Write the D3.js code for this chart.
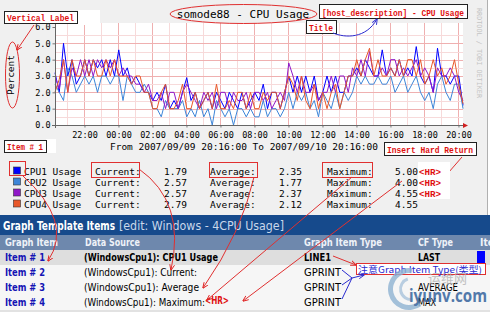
<!DOCTYPE html>
<html>
<head>
<meta charset="utf-8">
<script src="https://cdn.jsdelivr.net/npm/d3@7"></script>
<style>
  body { margin: 0; background: #fff; }
  svg { display: block; }
</style>
</head>
<body>
<script>
const seriesNames = ["CPU1 Usage", "CPU2 Usage", "CPU3 Usage", "CPU4 Usage"]
const seriesColors = ["#0000ff", "#3d85d8", "#8f18c8", "#e8582a"]

// one value every 15 minutes, 2007/09/09 20:16 -> 2007/09/10 20:16
const cpu1 = [
    3.2, 2.0, 5.0, 3.0, 4.0, 2.5, 3.0, 4.0, 3.0, 4.0, 3.5, 4.0,
    3.0, 4.0, 3.0, 4.6, 3.0, 3.5, 2.5, 3.0, 2.5, 2.0, 2.0, 1.5,
    2.0, 1.5, 2.5, 1.0, 1.5, 1.0, 2.0, 2.9, 1.5, 2.0, 1.0, 1.5,
    2.0, 1.0, 2.0, 1.5, 1.0, 2.0, 1.5, 1.0, 2.0, 1.0, 1.5, 2.0,
    1.5, 2.5, 1.0, 2.0, 2.0, 1.0, 2.0, 3.0, 2.0, 3.0, 2.0, 3.0,
    2.0, 3.0, 1.5, 2.0, 3.0, 2.0, 3.0, 2.0, 2.0, 3.0, 3.0, 3.5,
    3.0, 4.0, 3.5, 3.0, 3.0, 4.6, 3.0, 3.5, 3.0, 4.0, 3.0, 3.5,
    3.0, 4.8, 3.0, 2.5, 3.0, 2.0, 4.7, 3.0, 3.0, 2.5, 3.0, 3.0,
    1.2
]
const cpu2 = [
    2.5, 2.0, 1.5, 3.5, 3.0, 2.0, 2.5, 3.0, 2.5, 3.0, 2.0, 3.0,
    3.0, 2.5, 3.0, 3.0, 1.5, 3.0, 2.5, 2.0, 2.0, 2.5, 2.0, 1.0,
    1.0, 0.5, 1.5, 1.0, 1.0, 1.0, 1.5, 0.5, 1.0, 0.5, 1.5, 0.5,
    1.0, 0.0, 1.5, 1.0, 0.5, 1.0, 0.0, 1.0, 1.0, 0.5, 1.0, 0.5,
    0.5, 1.5, 0.5, 1.0, 1.0, 0.5, 1.0, 2.0, 1.0, 2.0, 1.5, 2.0,
    1.0, 1.5, 0.5, 2.0, 1.5, 1.0, 2.0, 1.0, 2.0, 1.5, 2.0, 3.0,
    2.5, 3.0, 2.5, 2.5, 3.0, 2.5, 2.5, 3.0, 2.0, 2.5, 3.0, 2.0,
    2.5, 3.0, 2.0, 1.5, 2.0, 1.0, 2.5, 3.0, 2.0, 1.5, 2.5, 2.5,
    1.0
]
const cpu3 = [
    3.0, 2.2, 4.0, 2.0, 3.5, 3.0, 4.0, 3.0, 4.0, 3.0, 4.0, 3.5,
    4.0, 3.5, 4.0, 3.0, 3.5, 3.0, 3.0, 2.5, 2.5, 2.0, 2.5, 1.5,
    1.5, 2.0, 1.0, 2.0, 2.0, 1.0, 2.0, 2.5, 2.0, 1.5, 1.0, 2.0,
    1.5, 2.0, 1.0, 2.0, 2.0, 1.0, 2.0, 1.5, 1.5, 2.0, 1.0, 2.0,
    2.0, 1.5, 2.0, 1.0, 1.5, 2.0, 1.5, 3.8, 3.0, 2.0, 3.0, 2.0,
    2.0, 2.5, 1.5, 2.0, 2.0, 3.0, 2.0, 3.0, 3.0, 2.0, 3.5, 3.0,
    4.0, 3.0, 4.5, 3.0, 3.0, 3.5, 3.0, 4.0, 4.0, 3.0, 3.5, 3.0,
    3.5, 4.0, 3.0, 3.5, 3.0, 2.0, 3.5, 3.0, 3.0, 3.5, 3.0, 2.0,
    1.5
]
const cpu4 = [
    2.0, 2.8, 4.0, 2.0, 4.0, 3.0, 3.0, 4.0, 3.0, 4.0, 3.0, 3.0,
    4.0, 3.0, 4.0, 3.0, 3.0, 3.0, 2.5, 3.0, 3.0, 2.0, 2.0, 1.0,
    1.0, 2.0, 2.5, 1.0, 1.0, 1.5, 2.5, 1.0, 1.0, 2.0, 1.0, 1.5,
    2.0, 1.0, 2.5, 1.0, 1.0, 1.5, 1.0, 2.0, 2.0, 1.0, 2.0, 1.0,
    1.0, 2.0, 1.5, 2.0, 2.0, 1.0, 2.0, 3.0, 2.5, 1.5, 3.0, 1.5,
    1.0, 2.5, 1.0, 2.0, 1.0, 2.0, 2.5, 1.0, 2.0, 3.0, 3.0, 4.0,
    3.0, 4.0, 4.7, 3.0, 4.0, 3.0, 3.0, 3.5, 3.0, 4.0, 3.0, 4.0,
    4.0, 3.0, 4.0, 2.5, 3.0, 4.0, 3.0, 3.5, 2.5, 3.0, 4.0, 2.5,
    1.3
]
const series = [cpu1, cpu2, cpu3, cpu4]

const currentVals = ["1.79", "2.57", "2.57", "2.79"]
const averageVals = ["2.35", "1.77", "2.37", "2.12"]
const maximumVals = ["5.00", "4.00", "4.55", "4.55"]
const yTicks = [0, 1, 2, 3, 4, 5, 6]

const itemNames = ["Item # 1", "Item # 2", "Item # 3", "Item # 4"]
const dataSources = ["(WindowsCpu1): CPU1 Usage", "(WindowsCpu1): Current:", "(WindowsCpu1): Average", "(WindowsCpu1): Maximum:"]
const itemTypes = ["LINE1", "GPRINT", "GPRINT", "GPRINT"]
const cfTypes = ["LAST", "", "AVERAGE", "MAX"]

const width = 490
const height = 312
const mono = "'DejaVu Sans Mono', monospace"
const sans = "'DejaVu Sans', Verdana, sans-serif"
const annoFont = "'Liberation Mono', monospace"

const svg = d3.select("body")
    .append("svg")
    .attr("width", width)
    .attr("height", height)

const defs = svg.append("defs")
const marker = (id, color) => defs.append("marker")
    .attr("id", id)
    .attr("viewBox", "0 0 10 10")
    .attr("refX", 9).attr("refY", 5)
    .attr("markerWidth", 6).attr("markerHeight", 6)
    .attr("orient", "auto")
    .append("path")
    .attr("d", "M0,1 L10,5 L0,9")
    .attr("fill", "none")
    .attr("stroke", color)
    .attr("stroke-width", 1.5)
marker("arrRed", "#e02020")
marker("arrBlue", "#2a2ad0")

// rrdtool image background
svg.append("rect")
    .attr("width", 487).attr("height", 215)
    .attr("fill", "#f0f0f0")
svg.append("line")
    .attr("x1", 487.5).attr("x2", 487.5).attr("y1", 0).attr("y2", 215)
    .attr("stroke", "#b0b0b0")

const start = new Date(2007, 8, 9, 20, 16)
const end = new Date(2007, 8, 10, 20, 16)
const times = cpu1.map((d, i) => d3.timeMinute.offset(start, i * 15))

const x = d3.scaleTime()
    .domain([start, end])
    .range([55, 463])
const y = d3.scaleLinear()
    .domain([0, 6])
    .range([125, 27])

const chart = svg.append("g")
chart.append("rect")
    .attr("x", 55).attr("y", 23)
    .attr("width", 408).attr("height", 102)
    .attr("fill", "#fff")

const hours = d3.timeHour.range(d3.timeHour.ceil(start), end)
const majorHours = hours.filter(d => d.getHours() % 2 === 0)
const halfSteps = d3.range(1, 12).map(d => d / 2)

chart.selectAll(".vgrid")
    .data(hours)
    .join("line")
    .attr("x1", d => Math.round(x(d)) + 0.5).attr("x2", d => Math.round(x(d)) + 0.5)
    .attr("y1", 23).attr("y2", 125)
    .attr("stroke", d => d.getHours() % 2 === 0 ? "#efb0b0" : "#f7dada")
chart.selectAll(".hgrid")
    .data(halfSteps)
    .join("line")
    .attr("x1", 55).attr("x2", 463)
    .attr("y1", d => Math.round(y(d)) + 0.5).attr("y2", d => Math.round(y(d)) + 0.5)
    .attr("stroke", d => d % 1 === 0 ? "#efb0b0" : "#f7dada")

const line = d3.line()
    .x((d, i) => x(times[i]))
    .y(d => y(d))

series.forEach((s, i) => {
    chart.append("path")
        .attr("d", line(s))
        .attr("fill", "none")
        .attr("stroke", seriesColors[i])
        .attr("stroke-width", 1)
})

const xAxis = d3.axisBottom(x)
    .tickValues(majorHours)
    .tickFormat(d3.timeFormat("%H:%M"))
    .tickSizeInner(2).tickSizeOuter(0)
    .tickPadding(4)
const yAxis = d3.axisLeft(y)
    .tickValues(yTicks)
    .tickFormat(d3.format(".1f"))
    .tickSizeInner(3).tickSizeOuter(0)
    .tickPadding(2)

chart.append("g")
    .attr("transform", "translate(0,125.5)")
    .call(xAxis)
    .call(g => g.select(".domain").remove())
    .call(g => g.selectAll("line").attr("stroke", "#777"))
    .call(g => g.selectAll("text").attr("font-family", mono).attr("font-size", 8.5).attr("fill", "#000"))
chart.append("g")
    .attr("transform", "translate(55.5,0)")
    .call(yAxis)
    .call(g => g.select(".domain").remove())
    .call(g => g.selectAll("line").attr("stroke", "#777"))
    .call(g => g.selectAll("text").attr("font-family", mono).attr("font-size", 8.5).attr("fill", "#000"))

chart.append("line")
    .attr("x1", 52).attr("x2", 464).attr("y1", 125.5).attr("y2", 125.5)
    .attr("stroke", "#666")
chart.append("line")
    .attr("x1", 55.5).attr("x2", 55.5).attr("y1", 128).attr("y2", 22)
    .attr("stroke", "#666")
chart.append("path")
    .attr("d", "M463,123 L468,125.5 L463,128 Z")
    .attr("fill", "#d02020")
chart.append("path")
    .attr("d", "M53,23 L55.5,18 L58,23 Z")
    .attr("fill", "#d02020")

svg.append("text")
    .attr("x", 243).attr("y", 18)
    .attr("text-anchor", "middle")
    .attr("font-family", mono).attr("font-size", 11)
    .text("somode88 - CPU Usage")
svg.append("text")
    .attr("transform", "translate(13.5,75) rotate(-90)")
    .attr("text-anchor", "middle")
    .attr("font-family", mono).attr("font-size", 9.5)
    .text("Percent")
svg.append("text")
    .attr("transform", "translate(477,8) rotate(90)")
    .attr("font-family", mono).attr("font-size", 6.8)
    .attr("fill", "#c4c4c4")
    .text("RRDTOOL / TOBI OETIKER")
svg.append("text")
    .attr("x", 110).attr("y", 149.5)
    .attr("font-family", mono).attr("font-size", 9.5)
    .attr("textLength", 268)
    .text("From 2007/09/09 20:16:00 To 2007/09/10 20:16:00")

const legend = svg.append("g")
    .attr("font-family", mono).attr("font-size", 9.5)
seriesNames.forEach((name, i) => {
    const by = 174.5 + i * 11
    legend.append("rect")
        .attr("x", 13.5).attr("y", by - 7.5)
        .attr("width", 7).attr("height", 7)
        .attr("fill", seriesColors[i])
        .attr("stroke", "#333").attr("stroke-width", 0.6)
    legend.append("text").attr("x", 24).attr("y", by).text(name)
    legend.append("text").attr("x", 95).attr("y", by).text("Current:")
    legend.append("text").attr("x", 187).attr("y", by).attr("text-anchor", "end").text(currentVals[i])
    legend.append("text").attr("x", 210).attr("y", by).text("Average:")
    legend.append("text").attr("x", 302).attr("y", by).attr("text-anchor", "end").text(averageVals[i])
    legend.append("text").attr("x", 327).attr("y", by).text("Maximum:")
    legend.append("text").attr("x", 418).attr("y", by).attr("text-anchor", "end").text(maximumVals[i])
})

// Graph Template Items table
const table = svg.append("g").attr("font-family", sans)
const tText = (x0, y0, str, len, opts = {}) => table.append("text")
    .attr("x", x0).attr("y", y0)
    .attr("font-size", opts.size || 10)
    .attr("font-weight", opts.bold ? "bold" : "normal")
    .attr("fill", opts.fill || "#000")
    .attr("textLength", len)
    .attr("lengthAdjust", "spacingAndGlyphs")
    .text(str)

table.append("rect").attr("x", 0).attr("y", 215).attr("width", 490).attr("height", 20).attr("fill", "#164a8c")
tText(3, 230, "Graph Template Items", 112, { size: 12, bold: true, fill: "#fff" })
tText(119, 230, "[edit: Windows - 4CPU Usage]", 165, { size: 12, fill: "#c9d7ea" })

table.append("rect").attr("x", 0).attr("y", 235).attr("width", 490).attr("height", 15).attr("fill", "#6e88ad")
tText(5, 245.5, "Graph Item", 53, { bold: true, fill: "#eef2f8" })
tText(85, 245.5, "Data Source", 55, { bold: true, fill: "#eef2f8" })
tText(304, 245.5, "Graph Item Type", 78, { bold: true, fill: "#eef2f8" })
tText(418, 245.5, "CF Type", 35, { bold: true, fill: "#eef2f8" })
tText(480, 245.5, "Ite", 14, { bold: true, fill: "#eef2f8" })

const rowFills = ["#dedede", "#f6f6f6", "#f6f6f6", "#f6f6f6"]
const srcLens = [134, 113, 115, 121]
const typeLens = [27, 37, 37, 37]
const cfLens = [22, 0, 40, 18]
itemNames.forEach((name, i) => {
    const ry = 250 + i * 15
    const by = ry + 11
    table.append("rect").attr("x", 0).attr("y", ry).attr("width", 490).attr("height", 15).attr("fill", rowFills[i])
    tText(5, by, name, 40, { bold: true, fill: "#1414b4" })
    tText(84, by, dataSources[i], srcLens[i], { bold: i === 0 })
    tText(304, by, itemTypes[i], typeLens[i], { bold: i === 0 })
    if (cfTypes[i]) tText(418, by, cfTypes[i], cfLens[i], { bold: i === 0 })
})
table.append("rect").attr("x", 477).attr("y", 251).attr("width", 8).attr("height", 12).attr("fill", "#0000ff")
table.append("rect").attr("x", 0).attr("y", 310).attr("width", 490).attr("height", 2).attr("fill", "#e2e2e2")
tText(205, 304, "<HR>", 24, { bold: true, fill: "#e01010" })

// annotations
const anno = svg.append("g")
const box = (x0, y0, w, h, str, len) => {
    anno.append("rect")
        .attr("x", x0 + 0.5).attr("y", y0 + 0.5)
        .attr("width", w).attr("height", h)
        .attr("fill", "#fff")
        .attr("stroke", "#222").attr("stroke-width", 1)
    anno.append("text")
        .attr("x", x0 + 3).attr("y", y0 + h - 2.5)
        .attr("font-family", annoFont).attr("font-weight", "bold")
        .attr("font-size", 9.5).attr("fill", "#e01010")
        .attr("textLength", len).attr("lengthAdjust", "spacingAndGlyphs")
        .text(str)
}
const redBox = (x0, y0, w, h) => anno.append("rect")
    .attr("x", x0 + 0.5).attr("y", y0 + 0.5)
    .attr("width", w).attr("height", h)
    .attr("fill", "none").attr("stroke", "#e03030").attr("stroke-width", 1)
const path = (d, color, arrow) => anno.append("path")
    .attr("d", d)
    .attr("fill", "none")
    .attr("stroke", color).attr("stroke-width", 1)
    .attr("marker-end", arrow ? `url(#${arrow})` : null)

anno.append("rect").attr("x", 78).attr("y", 10).attr("width", 22).attr("height", 15).attr("fill", "#fff")
box(4, 11, 73, 12, "Vertical Label", 67)
anno.append("ellipse")
    .attr("cx", 12.5).attr("cy", 75).attr("rx", 7).attr("ry", 33)
    .attr("fill", "none").attr("stroke", "#e03030")
path("M34,25 L17,50", "#e03030", "arrRed")

anno.append("ellipse")
    .attr("cx", 243.5).attr("cy", 14).attr("rx", 73.5).attr("ry", 9.5)
    .attr("fill", "none").attr("stroke", "#e03030")
box(319, 4, 148, 14, "[host_description] - CPU Usage", 142)
box(306, 20, 30, 13, "Title", 24)
path("M333,33 C345,38 366,39 377,19", "#2a2ad0", "arrBlue")

anno.append("rect").attr("x", 46).attr("y", 139).attr("width", 10).attr("height", 14).attr("fill", "#fff")
box(4, 140, 42, 12, "Item # 1", 36)
box(384, 142, 92, 13, "Insert Hard Return", 86)
path("M462,157 L442,180", "#e03030", "arrRed")

anno.append("rect").attr("x", 418).attr("y", 162).attr("width", 32).attr("height", 37).attr("fill", "#fff")
;[0, 1, 2].forEach(i => {
    anno.append("text")
        .attr("x", 419).attr("y", 174.5 + i * 11)
        .attr("font-family", annoFont).attr("font-size", 9).attr("font-weight", "bold")
        .attr("fill", "#e01010")
        .attr("textLength", 22).attr("lengthAdjust", "spacingAndGlyphs")
        .text("<HR>")
})

redBox(9, 161, 16, 14)
redBox(91, 162, 48, 15)
redBox(209, 162, 48, 15)
redBox(322, 162, 50, 15)

path("M22,175 Q74,222 48,261", "#e03030", "arrRed")
path("M139,169 Q186,202 171,270", "#e03030", "arrRed")
path("M254,177 Q242,232 203,288", "#e03030", "arrRed")
path("M352,177 L207,300", "#e03030", "arrRed")
path("M402,181 L243,301", "#e03030", "arrRed")
path("M333,256 L356,265", "#e03030", "arrRed")

// blue note on Graph Item Type
anno.append("rect")
    .attr("x", 356.5).attr("y", 263.5)
    .attr("width", 129).attr("height", 11)
    .attr("fill", "#fff")
    .attr("stroke", "#e03030")
anno.append("text")
    .attr("x", 358).attr("y", 272.5)
    .attr("font-family", "'Noto Sans CJK SC', sans-serif")
    .attr("font-size", 9).attr("fill", "#2a2ad0")
    .attr("textLength", 124).attr("lengthAdjust", "spacingAndGlyphs")
    .text("注意Graph Item Type(类型)")
path("M342,270 L352,278 M342,285 L352,278 M342,299 L352,278", "#2a2ad0")
path("M352,278 L364,275", "#2a2ad0", "arrBlue")

// watermark
const wm = svg.append("g").attr("opacity", 0.8)
wm.append("path")
    .attr("transform", "translate(409,289)")
    .attr("d", d3.arc()({ innerRadius: 16, outerRadius: 21, startAngle: Math.PI * 0.8, endAngle: Math.PI * 2.05 }))
    .attr("fill", "#8fb3d3")
wm.append("path")
    .attr("transform", "translate(411,289)")
    .attr("d", d3.arc()({ innerRadius: 9, outerRadius: 12, startAngle: Math.PI * 0.95, endAngle: Math.PI * 1.9 }))
    .attr("fill", "#a9c4dc")
wm.append("text")
    .attr("x", 428).attr("y", 283)
    .attr("font-family", "'Noto Sans CJK SC', sans-serif")
    .attr("font-size", 13).attr("fill", "#b4b4b4")
    .text("运维网")
wm.append("text")
    .attr("x", 409).attr("y", 302)
    .attr("font-family", "'Open Sans', sans-serif")
    .attr("font-size", 17).attr("font-weight", "bold")
    .attr("fill", "#2a5a98")
    .attr("textLength", 78).attr("lengthAdjust", "spacingAndGlyphs")
    .text("iyunv.com")
</script>
</body>
</html>
